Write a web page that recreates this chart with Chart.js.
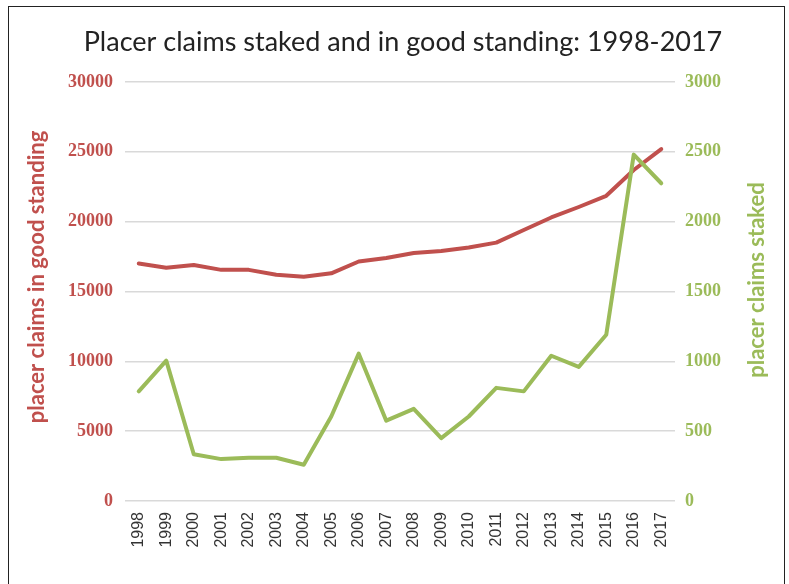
<!DOCTYPE html>
<html>
<head>
<meta charset="utf-8">
<script src="https://cdn.jsdelivr.net/npm/chart.js@4"></script>
<style>
  html, body { margin: 0; padding: 0; background: #fff; }
  #wrap { position: relative; width: 789px; height: 584px; }
  #frame {
    position: absolute; left: 8px; top: 6px; width: 777px; height: 600px;
    border: 1.5px solid #222; box-sizing: border-box; pointer-events: none;
  }
</style>
</head>
<body>
<div id="wrap">
  <canvas id="chart" width="789" height="584"></canvas>
  <div id="frame"></div>
</div>
<script>
const years = ["1998", "1999", "2000", "2001", "2002", "2003", "2004", "2005", "2006", "2007",
  "2008", "2009", "2010", "2011", "2012", "2013", "2014", "2015", "2016", "2017"];

// claims in good standing (left axis)
const goodStanding = [17000, 16700, 16900, 16550, 16550, 16200, 16050, 16300, 17150, 17400,
  17750, 17900, 18150, 18500, 19400, 20300, 21050, 21850, 23700, 25200];

// claims staked (right axis)
const staked = [785, 1005, 335, 300, 310, 310, 260, 605, 1055, 575,
  660, 450, 605, 810, 785, 1040, 960, 1190, 2480, 2275];

const leftTicks = [0, 5000, 10000, 15000, 20000, 25000, 30000];
const rightTicks = [0, 500, 1000, 1500, 2000, 2500, 3000];

const RED = "#c0504d";
const GREEN = "#9bbb59";

// title + axis titles drawn by hand (right one reads bottom-to-top)
function vText(ctx, text, x, y, color) {
  ctx.save();
  ctx.translate(x, y);
  ctx.rotate(-Math.PI / 2);
  ctx.fillStyle = color;
  ctx.font = "bold 22px Lato";
  ctx.textAlign = "center";
  ctx.textBaseline = "middle";
  ctx.fillText(text, 0, 0);
  ctx.restore();
}

const titles = {
  id: "titles",
  afterDraw(chart) {
    const ctx = chart.ctx;
    ctx.save();
    ctx.fillStyle = "#222";
    ctx.font = "27px Lato";
    ctx.textAlign = "center";
    ctx.textBaseline = "middle";
    ctx.fillText("Placer claims staked and in good standing: 1998-2017", 403, 42);
    ctx.restore();
    vText(ctx, "placer claims in good standing", 37, 277, RED);
    vText(ctx, "placer claims staked", 757, 280, GREEN);
  },
};

new Chart(document.getElementById("chart"), {
  type: "line",
  data: {
    labels: years,
    datasets: [
      {
        label: "placer claims staked",
        data: staked,
        yAxisID: "y1",
        borderColor: GREEN,
        borderWidth: 4,
        pointRadius: 0,
        tension: 0,
        borderCapStyle: "round",
        borderJoinStyle: "round",
        order: 0,
      },
      {
        label: "placer claims in good standing",
        data: goodStanding,
        yAxisID: "y",
        borderColor: RED,
        borderWidth: 4,
        pointRadius: 0,
        tension: 0,
        borderCapStyle: "round",
        borderJoinStyle: "round",
        order: 1,
      },
    ],
  },
  options: {
    responsive: false,
    animation: false,
    layout: { padding: { top: 82, left: 0, right: 0, bottom: 0 } },
    plugins: {
      legend: { display: false },
      tooltip: { enabled: false },
      title: { display: false },
    },
    scales: {
      x: {
        offset: true,
        grid: { display: false, drawTicks: false, offset: true },
        border: { display: false },
        ticks: {
          color: "#333",
          font: { family: "'Liberation Sans'", size: 16 },
          minRotation: 90,
          maxRotation: 90,
          padding: 11,
          autoSkip: false,
        },
        afterFit(scale) { scale.height = 83; },
      },
      y: {
        position: "left",
        min: 0,
        max: 30000,
        afterBuildTicks(scale) { scale.ticks = leftTicks.map((v) => ({ value: v })); },
        grid: { color: "#d9d9d9", lineWidth: 1.5, drawTicks: false },
        border: { display: false },
        ticks: {
          color: RED,
          font: { family: "'Liberation Serif'", size: 18, weight: "bold" },
          padding: 12,
          callback: (v) => String(v),
        },
        afterFit(scale) { scale.width = 125; },
      },
      y1: {
        position: "right",
        min: 0,
        max: 3000,
        afterBuildTicks(scale) { scale.ticks = rightTicks.map((v) => ({ value: v })); },
        grid: { display: false, drawTicks: false },
        border: { display: false },
        ticks: {
          color: GREEN,
          font: { family: "'Liberation Serif'", size: 18, weight: "bold" },
          padding: 10,
          callback: (v) => String(v),
        },
        afterFit(scale) { scale.width = 114; },
      },
    },
  },
  plugins: [titles],
});
</script>
</body>
</html>
